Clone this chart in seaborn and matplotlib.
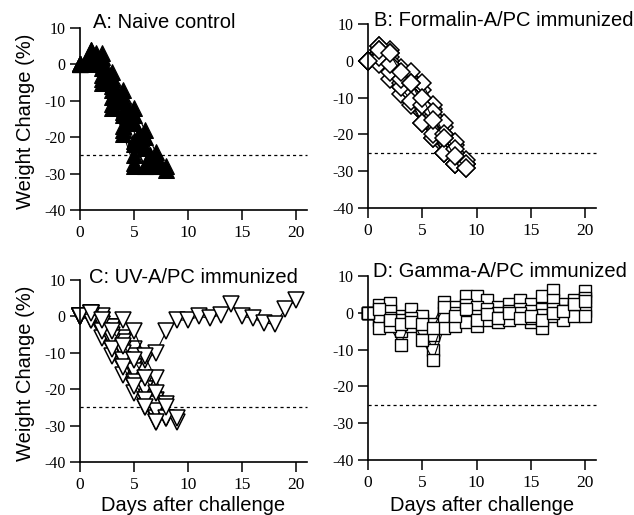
import numpy as np
import pandas as pd
import matplotlib
matplotlib.use("Agg")
import matplotlib.pyplot as plt
import seaborn as sns

sns.set_theme(style="ticks")
plt.rcParams['font.family'] = ['Liberation Sans', 'DejaVu Sans']
plt.rcParams['text.color'] = 'black'
plt.rcParams['axes.labelcolor'] = 'black'
plt.rcParams['xtick.color'] = 'black'
plt.rcParams['ytick.color'] = 'black'

# ---- Data: weight change (%) per mouse, one value per day from day 0 ----
naive = [
    [0, 2, -3, -9, -17, -27],
    [0, 1, -4, -11, -19, -28],
    [0, 3, 0, -6, -13, -21, -28],
    [0, 4, 2, -4, -10, -16, -23, -28],
    [0, 4, 3, -2, -7, -12, -18, -24, -28],
    [0, 2, 0, -4, -9, -14, -20, -26, -29],
    [0, 0, -5, -12, -18, -25, -28],
    [0, 3, -1, -7, -14, -22, -28],
    [0, 3, -2, -8, -15, -22, -28],
    [0, 1, -4, -9, -13, -19, -25, -28],
]
# mice 9 and 10 of the naive group were weighed at half days
naive_days = {
    8: [0, 1.5, 2.5, 3.5, 4.5, 5.5, 6.5],
    9: [0, 1.5, 2.5, 3.5, 4.5, 5.5, 6.5, 7.5],
}
formalin = [
    [0, 4, 3, -2, -5, -8, -13, -18, -23, -28],
    [0, 2, 1, -4, -6, -11, -15, -20, -25, -28],
    [0, 0, -1, -5, -9, -14, -18, -23, -28],
    [0, 4, 2, -4, -3, -6, -12, -17, -22, -27],
    [0, 1, -2, -7, -11, -14, -21, -25, -28],
    [0, 2, -5, -9, -12, -17, -21, -25, -28],
    [0, 3, 0, -6, -9, -12, -15, -21, -25, -29],
    [0, -1, -3, -7, -11, -17, -20, -25],
    [0, 1, -1, -5, -6, -12, -14, -20, -24, -28],
    [0, 3, 2, -3, -6, -10, -16, -21, -26, -29],
]
uv = [
    [0, 0.5, -1, -3, -6, -9, -12, -10, -4, -1, -1, 0, -0.5, 0.5, 3.3, 0, -0.5, -1.7, -2.2, 2, 4.6],
    [0, 1, -2, -5, -9, -14, -20, -26],
    [0, 0, -4, -8, -13, -17, -22, -28],
    [0, 1, -1, -3, -7, -11, -18, -23, -28],
    [0, -1, -6, -11, -16, -21, -25, -29],
    [0, 0, -3, -7, -10, -15, -20, -24, -28],
    [0, 1, 0, -3, -1, -4, -11, -17, -24, -29],
    [0, 0, -2, -6, -12, -18, -23, -26, -28],
    [0, -1, -4, -9, -14, -19, -25, -29],
    [0, 1, -1, -4, -8, -12, -17, -21, -25, -28],
]
gamma = [
    [0, 2, 2.6, -1, -1, -2, -3, 3, 1.5, 4.5, 4.5, 3.5, 1.5, 2.5, 3.5, 2.5, 4.5, 6.3, 2.5, 3.5, 5.8],
    [0, 0, 0.5, -2, 1, -1, -6, 0, 0, 2, 1.5, 1, 0, 0.5, 1, 0.5, 1, 3.5, 0.5, 1.5, 4],
    [0, -2, -1.5, -5, -3.7, -4, -10, -1.5, -2, -0.5, -1, -1, -1.5, -1, -1, -2.5, -0.5, 1, -1, 0.5, 0.5],
    [0, -4, -3.7, -8.7, -1.5, -7.4, -12.8, -4, -3.5, -2.5, -3.7, -2, -2.5, -2, 0, -1.5, -4, -1, -2, -1, -1],
    [0, 1, -2, -3, -2.5, -3, -4, 1.5, -1, 1, -2, -0.3, -1.5, 0, -1.5, -1, -2, 0, 0.5, 2.5, 3.2],
]

titles = ["A: Naive control", "B: Formalin-A/PC immunized",
          "C: UV-A/PC immunized", "D: Gamma-A/PC immunized"]
x_ticks = [0, 5, 10, 15, 20]
y_ticks = [10, 0, -10, -20, -30, -40]
threshold = -25
x_label = "Days after challenge"
y_label = "Weight Change (%)"


def to_df(group, day_overrides=None):
    day_overrides = day_overrides or {}
    rows = []
    for m, vals in enumerate(group):
        days = day_overrides.get(m, list(range(len(vals))))
        for d, v in zip(days, vals):
            rows.append({"mouse": m, "day": d, "weight": v})
    return pd.DataFrame(rows)


fig = plt.figure(figsize=(6.34, 5.15), dpi=100)
W, H = 634, 515
# axes pixel boxes: left, top, right (x=21), bottom
boxes = [
    (80, 28, 307, 210),
    (368, 24, 596, 208),
    (80, 280, 307, 462),
    (368, 276, 596, 460),
]
title_pos = [(0.057, 1.0), (0.026, 0.99), (0.04, 0.984), (0.022, 0.995)]
styles = [
    dict(marker="^", markersize=11, markerfacecolor="black", markeredgecolor="black"),
    dict(marker="D", markersize=9, markerfacecolor="white", markeredgecolor="black", markeredgewidth=1.1),
    dict(marker="v", markersize=11, markerfacecolor="white", markeredgecolor="black", markeredgewidth=1.1),
    dict(marker="s", markersize=8.5, markerfacecolor="white", markeredgecolor="black", markeredgewidth=1.0),
]
frames = [to_df(naive, naive_days), to_df(formalin), to_df(uv), to_df(gamma)]

for i, (df, box) in enumerate(zip(frames, boxes)):
    l, t, r, b = box
    ax = fig.add_axes([l / W, 1 - b / H, (r - l) / W, (b - t) / H])
    ax.axhline(threshold, color="black", linestyle=(0, (2.5, 2.5)), linewidth=0.9, zorder=0)
    sns.lineplot(data=df, x="day", y="weight", units="mouse", estimator=None,
                 color="black", linewidth=0.8, ax=ax, legend=False, **styles[i])
    ax.set_xlim(0, 21)
    ax.set_ylim(-40, 10)
    ax.set_xticks(x_ticks)
    ax.set_yticks(y_ticks)
    ax.set_xticklabels([str(v) for v in x_ticks], family="Liberation Serif", fontsize=12.5)
    ax.set_yticklabels([str(v) for v in y_ticks], family="Liberation Serif", fontsize=11.5)
    ax.tick_params(direction="out", length=7.5, width=1.1, color="black", pad=3)
    for s in ["top", "right"]:
        ax.spines[s].set_visible(False)
    for s in ["left", "bottom"]:
        ax.spines[s].set_linewidth(1.2)
        ax.spines[s].set_color("black")
        ax.spines[s].set_zorder(5)
    ax.patch.set_alpha(0)
    for ln in ax.lines:
        ln.set_clip_on(False)
    ax.text(title_pos[i][0], title_pos[i][1], titles[i], transform=ax.transAxes,
            fontsize=14.5, va="baseline", ha="left", color="black")
    if i in (0, 2):
        ax.set_ylabel(y_label, fontsize=14.5, color="black")
        ax.yaxis.set_label_coords(-0.198, 0.49)
    else:
        ax.set_ylabel("")
    if i in (2, 3):
        ax.set_xlabel(x_label, fontsize=14.5, color="black")
        ax.xaxis.set_label_coords(0.5, -(496 - b) / (b - t))
    else:
        ax.set_xlabel("")

fig.savefig("out.png", dpi=100)
